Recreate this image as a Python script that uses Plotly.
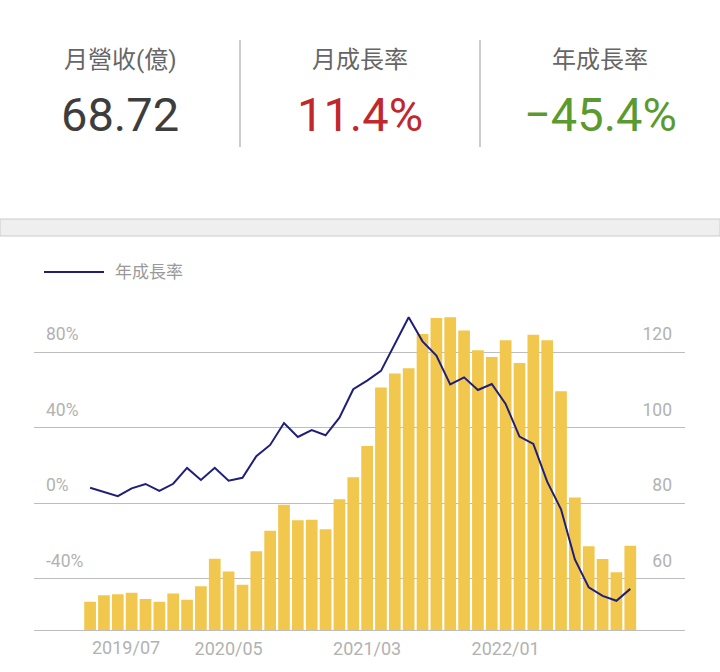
import plotly.graph_objects as go

months = ["2019/07", "2019/08", "2019/09", "2019/10", "2019/11", "2019/12",
          "2020/01", "2020/02", "2020/03", "2020/04", "2020/05", "2020/06",
          "2020/07", "2020/08", "2020/09", "2020/10", "2020/11", "2020/12",
          "2021/01", "2021/02", "2021/03", "2021/04", "2021/05", "2021/06",
          "2021/07", "2021/08", "2021/09", "2021/10", "2021/11", "2021/12",
          "2022/01", "2022/02", "2022/03", "2022/04", "2022/05", "2022/06",
          "2022/07", "2022/08", "2022/09", "2022/10"]

# 月營收(億)
revenue = [53.9, 55.6, 55.9, 56.3, 54.6, 53.9, 56.1, 54.4, 58.0, 65.3,
           61.9, 58.4, 67.3, 72.7, 79.6, 75.5, 75.6, 73.1, 81.1, 86.9,
           95.2, 110.7, 114.4, 115.8, 124.9, 129.1, 129.3, 125.8, 120.6, 118.8,
           123.2, 117.2, 124.7, 123.2, 109.7, 81.5, 68.6, 65.2, 61.69, 68.72]

# 年成長率 (%)
yoy = [8.2, 5.9, 3.7, 7.9, 10.2, 6.5, 10.3, 18.7, 12.3, 18.8,
       11.9, 13.5, 24.9, 30.9, 42.5, 35.1, 38.8, 36.0, 45.3, 60.4,
       65.0, 70.1, 84.4, 98.6, 85.8, 78.2, 63.0, 66.7, 60.0, 63.2,
       52.6, 35.3, 31.4, 11.4, -3.2, -29.8, -44.6, -49.1, -51.7, -45.4]

x_ticks = ["2020/05", "2021/03", "2022/01"]
rev_ticks = [60, 80, 100, 120]
pct_ticks = [-40, 0, 40, 80]
pct_labels = ["-40%", "0%", "40%", "80%"]

latest = revenue[-1]
mom = (revenue[-1] / revenue[-2] - 1) * 100
yoy_last = yoy[-1]

FONT = "Roboto, 'Noto Sans CJK TC', sans-serif"
W, H = 720, 672
TICK_GRAY = "#b2b2b2"


def px(x):
    return x / W


def py(y):
    return 1 - y / H


fig = go.Figure()

fig.add_trace(go.Bar(x=months, y=revenue, marker_color="#F1C74D",
                     marker_line_width=0, yaxis="y", name="月營收"))
fig.add_trace(go.Scatter(x=months, y=yoy, mode="lines", yaxis="y2",
                         line=dict(color="#1f1f7a", width=2), name="年成長率"))

fig.update_layout(
    width=W, height=H,
    margin=dict(l=0, r=0, t=0, b=0),
    paper_bgcolor="white", plot_bgcolor="white",
    font=dict(family=FONT),
    showlegend=False,
    bargap=0.155,
    xaxis=dict(type="category", domain=[px(34), px(685)],
               range=[-4.05, len(months) + 2.95],
               tickvals=x_ticks, ticks="", showgrid=False,
               showline=True, linecolor="#bdbdbd", linewidth=1,
               ticklabelstandoff=2,
               tickfont=dict(size=18, color=TICK_GRAY)),
    yaxis=dict(domain=[42 / H, 372 / H], side="right",
               range=[46.4, 133.9], tickvals=rev_ticks,
               ticklabelposition="inside top", ticklabelstandoff=10,
               ticklabelshift=-6,
               showgrid=True, gridcolor="#bdbdbd", gridwidth=1,
               zeroline=False, tickfont=dict(size=17.5, color=TICK_GRAY)),
    yaxis2=dict(overlaying="y", side="left", anchor="free", position=px(42),
                range=[-67.2, 107.7], tickvals=pct_ticks, ticktext=pct_labels,
                ticklabelposition="inside top", ticks="",
                ticklabelshift=-6,
                showgrid=False, zeroline=False, showline=False,
                tickfont=dict(size=17.5, color=TICK_GRAY)),
)

# first month label sits left-aligned at the first bar
fig.add_annotation(x=months[0], xref="x", y=py(647), yref="paper",
                   text=months[0], showarrow=False,
                   xanchor="left", yanchor="middle",
                   font=dict(size=18, color=TICK_GRAY))

# header summary
heads = [("月營收(億)", f"{latest:.2f}", "#3d3d3d"),
         ("月成長率", f"{mom:.1f}%", "#c0282d"),
         ("年成長率", f"{yoy_last:.1f}%".replace("-", "\u2212"), "#5b9a2f")]
for i, (label, value, color) in enumerate(heads):
    cx = 120 + 240 * i
    fig.add_annotation(x=px(cx), y=py(60), xref="paper", yref="paper",
                       text=label, showarrow=False,
                       xanchor="center", yanchor="middle",
                       font=dict(size=24, color="#666666"))
    fig.add_annotation(x=px(cx), y=py(114), xref="paper", yref="paper",
                       text=value, showarrow=False,
                       xanchor="center", yanchor="middle",
                       font=dict(size=47, color=color))

for sx in (240, 480):
    fig.add_shape(type="line", xref="paper", yref="paper",
                  x0=px(sx), x1=px(sx), y0=py(40), y1=py(147),
                  line=dict(color="#bbbbbb", width=1.5))

# gray band
fig.add_shape(type="rect", xref="paper", yref="paper",
              x0=0, x1=1, y0=py(219), y1=py(236),
              fillcolor="#efefef", line=dict(color="#cccccc", width=1))

# legend
fig.add_shape(type="line", xref="paper", yref="paper",
              x0=px(44), x1=px(104), y0=py(272), y1=py(272),
              line=dict(color="#1f1f7a", width=2))
fig.add_annotation(x=px(113), y=py(272), xref="paper", yref="paper",
                   text="年成長率", showarrow=False,
                   xanchor="left", yanchor="middle",
                   font=dict(size=17, color="#9a9a9a"))

fig.write_html("out.html", config={"displayModeBar": False},
               post_script="document.body.style.margin='0';")
